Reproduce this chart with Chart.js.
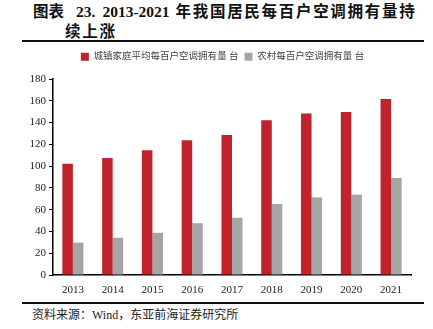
<!DOCTYPE html>
<html>
<head>
<meta charset="utf-8">
<script src="https://cdn.jsdelivr.net/npm/chart.js@4"></script>
<style>
  html, body { margin: 0; padding: 0; background: #fff; }
  body { width: 433px; height: 329px; position: relative; overflow: hidden; }
  .title { position: absolute; left: 33px; top: 0px; font: bold 15.5px "Liberation Serif", "Noto Sans CJK SC", serif; color: #111; line-height: 20px; white-space: nowrap; }
  .title div { height: 20px; }
  .title .cj { font-family: "Noto Sans CJK SC", sans-serif; font-size: 15.5px; letter-spacing: 1.7px; line-height: 20px; }
  .title .l2 { padding-left: 32px; }
  .rule { position: absolute; left: 22px; width: 402px; background: #111; }
  .source { position: absolute; left: 32px; top: 305px; font: 12px "Liberation Serif", "Noto Sans CJK SC", serif; color: #222; }
  #wrap { position: absolute; left: 0; top: 46px; width: 433px; height: 253px; }
</style>
</head>
<body>
<div class="title">
  <div><span class="cj" style="letter-spacing:0">图表</span><span style="margin-left:12px">23.</span><span style="margin-left:7px">2013-2021</span><span class="cj" style="margin-left:6px">年我国居民每百户空调拥有量持</span></div>
  <div><span class="cj l2">续上涨</span></div>
</div>
<div class="rule" style="top:40px;height:2px"></div>
<div id="wrap"><canvas id="c"></canvas></div>
<div class="rule" style="top:302px;height:2px"></div>
<div class="source">资料来源：Wind，东亚前海证券研究所</div>
<script>
var YEARS = ['2013', '2014', '2015', '2016', '2017', '2018', '2019', '2020', '2021'];
var URBAN = [102.2, 107.4, 114.6, 123.7, 128.6, 142.2, 148.3, 149.6, 161.7];
var RURAL = [29.8, 34.2, 38.8, 47.6, 52.6, 65.2, 71.3, 73.8, 89.0];
var SERIES_NAMES = ['城镇家庭平均每百户空调拥有量 台', '农村每百户空调拥有量 台'];

var SERIF = "'Liberation Serif', 'Noto Sans CJK SC', serif";

// fixed legend height, and legend centred on the page rather than the padded area
var legendTweak = {
  id: 'legendTweak',
  beforeLayout: function(chart) {
    var lg = chart.legend;
    if (lg && !lg._fixed) {
      var fit = lg.fit;
      lg.fit = function() { fit.call(this); this.height = 33; };
      lg._fixed = true;
    }
  },
  afterUpdate: function(chart) {
    if (chart.legend) { chart.legend.left += 17; chart.legend.right += 17; }
  },
};

new Chart(document.getElementById('c'), {
  type: 'bar',
  data: {
    labels: YEARS,
    datasets: [
      { label: SERIES_NAMES[0], data: URBAN, backgroundColor: '#C0232C', borderWidth: 0 },
      { label: SERIES_NAMES[1], data: RURAL, backgroundColor: '#A6A6A6', borderWidth: 0 },
    ],
  },
  plugins: [legendTweak],
  options: {
    responsive: true,
    maintainAspectRatio: false,
    animation: false,
    layout: { padding: { left: 0, right: 22, top: 0, bottom: 0 } },
    datasets: { bar: { categoryPercentage: 0.53, barPercentage: 1.0 } },
    plugins: {
      legend: {
        position: 'top',
        labels: {
          boxWidth: 8, boxHeight: 8, padding: 6, color: '#444',
          font: { family: SERIF, size: 9.5 },
        },
      },
      tooltip: { enabled: false },
    },
    scales: {
      x: {
        afterFit: function(s) { s.height = 24; },
        grid: { display: false },
        border: { display: true, color: '#000', width: 1.5 },
        ticks: { color: '#222', font: { family: SERIF, size: 11 }, padding: 1 },
      },
      y: {
        min: 0, max: 180,
        afterFit: function(s) { s.width = 53; },
        grid: { drawOnChartArea: false, drawTicks: true, tickLength: 4, color: '#000' },
        border: { display: true, color: '#000', width: 1.5 },
        ticks: { stepSize: 20, color: '#222', font: { family: SERIF, size: 11 }, padding: 3 },
      },
    },
  },
});
</script>
</body>
</html>
